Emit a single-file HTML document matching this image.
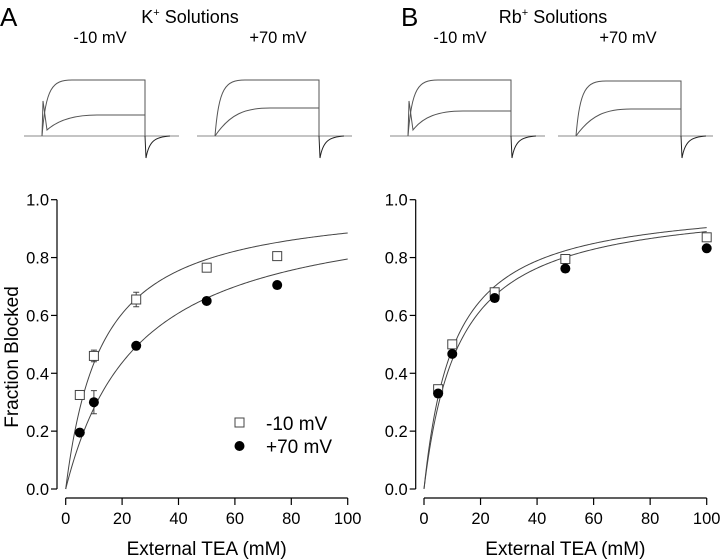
<!DOCTYPE html>
<html><head><meta charset="utf-8"><style>
body{margin:0;background:#fff;}
svg{display:block;font-family:"Liberation Sans",sans-serif;}
</style></head><body>
<svg id="fig" width="720" height="560" viewBox="0 0 720 560" xmlns="http://www.w3.org/2000/svg">
<text x="0" y="26" font-size="26">A</text>
<text x="190" y="23" font-size="18" text-anchor="middle">K<tspan dy="-7" font-size="11">+</tspan><tspan dy="7"> Solutions</tspan></text>
<text x="100" y="43" font-size="16.5" text-anchor="middle">-10 mV</text>
<text x="278" y="43" font-size="16.5" text-anchor="middle">+70 mV</text>
<text x="401" y="26" font-size="26">B</text>
<text x="553" y="23" font-size="18" text-anchor="middle">Rb<tspan dy="-7" font-size="11">+</tspan><tspan dy="7"> Solutions</tspan></text>
<text x="460" y="43" font-size="16.5" text-anchor="middle">-10 mV</text>
<text x="628" y="43" font-size="16.5" text-anchor="middle">+70 mV</text>
<g id="traces" stroke="#555" stroke-width="1" fill="none"></g>
<g id="plots"></g>
</svg>
<script>
// Left panel (K+) data
const concK = [5, 10, 25, 50, 75];
const kNeg10 = [0.325, 0.46, 0.655, 0.765, 0.805];
const kNeg10Err = [0, 0.02, 0.025, 0, 0];
const kPos70 = [0.195, 0.30, 0.495, 0.65, 0.705];
const kPos70Err = [0, 0.04, 0, 0, 0];
const kFitKd = [13, 25.8];
// Right panel (Rb+) data
const concRb = [5, 10, 25, 50, 100];
const rbNeg10 = [0.345, 0.50, 0.68, 0.795, 0.87];
const rbPos70 = [0.33, 0.467, 0.66, 0.762, 0.832];
const rbFitKd = [10.7, 12.4];
const xTicks = [0, 20, 40, 60, 80, 100];
const yTicks = [0.0, 0.2, 0.4, 0.6, 0.8, 1.0];

const NS = "http://www.w3.org/2000/svg";
function mk(tag, attrs, parent) {
  const e = document.createElementNS(NS, tag);
  for (const k in attrs) e.setAttribute(k, attrs[k]);
  parent.appendChild(e);
  return e;
}

// Current traces
const tg = document.getElementById('traces');
function trace(x0, start, end, top, mid, dip, name) {
  const base = 136;
  const b = mk('path', {d: `M${x0} ${base} H${x0+155}`, stroke: '#888'}, tg);
  
  
  let d1 = `M${start} ${base} C${start+4} ${top+8} ${start+10} ${top} ${start+30} ${top} H${end} V${base} `;
  let d2 = `M${start} ${base} ${dip ? 'L' + (start + 1) + ' ' + (base - 35) + ' L' + (start + 5) + ' ' + (base - 6) : ''} C${start+15} ${mid+6} ${start+30} ${mid} ${start+55} ${mid} H${end} V${base}`;
  let d3 = `M${end} ${base} L${end+1} ${base+22} C${end+4} ${base+5} ${end+10} ${base+1} ${end+25} ${base}`;
  const p1 = mk('path', {d: d1}, tg);
  
  
  const p2 = mk('path', {d: d2}, tg);
  
  
  const p3 = mk('path', {d: d3, stroke: '#222'}, tg);
  
  
}
trace(24, 42, 145, 80, 115, true, 'trace-a-neg10');
trace(197, 215, 319, 80, 108, false, 'trace-a-pos70');
trace(390, 408, 511, 80, 111, true, 'trace-b-neg10');
trace(558, 576, 681, 81, 109, false, 'trace-b-pos70');

const pg = document.getElementById('plots');
function plot(prefix, ax0, x0, x100, conc, open, openErr, filled, filledErr, kds, legend) {
  const yTop = 199.7, yBot = 489, xAxisY = 498;
  const X = v => x0 + (x100 - x0) * v / 100;
  const Y = v => yBot - (yBot - yTop) * v;
  const g = mk('g', {}, pg);
  
  
  const ya = mk('line', {x1: ax0, y1: Y(1), x2: ax0, y2: Y(0), stroke: '#000', 'stroke-width': 1.2}, g);
  
  
  yTicks.forEach(t => {
    const l = mk('line', {x1: ax0 - 6, y1: Y(t), x2: ax0, y2: Y(t), stroke: '#000', 'stroke-width': 1.2}, g);
    
    
    const tx = mk('text', {x: ax0 - 8, y: Y(t) + 6, 'font-size': 16.5, 'text-anchor': 'end'}, g);
    tx.textContent = t.toFixed(1);
    
    
  });
  const xa = mk('line', {x1: X(0), y1: xAxisY, x2: X(100), y2: xAxisY, stroke: '#000', 'stroke-width': 1.2}, g);
  
  
  xTicks.forEach(t => {
    const l = mk('line', {x1: X(t), y1: xAxisY, x2: X(t), y2: xAxisY + 7, stroke: '#000', 'stroke-width': 1.2}, g);
    
    
    const tx = mk('text', {x: X(t), y: xAxisY + 26, 'font-size': 16.5, 'text-anchor': 'middle'}, g);
    tx.textContent = t;
    
    
  });
  const xt = mk('text', {x: (X(0) + X(100)) / 2, y: 555, 'font-size': 19, 'text-anchor': 'middle'}, g);
  xt.textContent = 'External TEA (mM)';
  
  
  kds.forEach((kd, i) => {
    let d = '';
    for (let c = 0; c <= 100; c += 0.5) d += (c ? 'L' : 'M') + X(c).toFixed(2) + ' ' + Y(c / (c + kd)).toFixed(2);
    const p = mk('path', {d: d, fill: 'none', stroke: '#444', 'stroke-width': 1}, g);
    
    
  });
  function err(vals, errs, name) {
    conc.forEach((c, i) => {
      if (!errs || !errs[i]) return;
      const x = X(c);
      const d = `M${x} ${Y(vals[i] - errs[i])} V${Y(vals[i] + errs[i])} M${x - 3} ${Y(vals[i] + errs[i])} h6 M${x - 3} ${Y(vals[i] - errs[i])} h6`;
      const p = mk('path', {d: d, stroke: '#444', fill: 'none', 'stroke-width': 1}, g);
      
      
    });
  }
  err(open, openErr, prefix + '-neg10');
  err(filled, filledErr, prefix + '-pos70');
  conc.forEach((c, i) => {
    const r = mk('rect', {x: X(c) - 4.5, y: Y(open[i]) - 4.5, width: 9, height: 9, fill: '#fff', stroke: '#444', 'stroke-width': 1}, g);
    
    
  });
  conc.forEach((c, i) => {
    const e = mk('circle', {cx: X(c), cy: Y(filled[i]), r: 5, fill: '#000'}, g);
    
    
  });
  if (legend) {
    const lr = mk('rect', {x: 235, y: 418, width: 9, height: 9, fill: '#fff', stroke: '#444'}, g);
    
    
    const lt = mk('text', {x: 266, y: 430, 'font-size': 19}, g);
    lt.textContent = '-10 mV';
    
    
    const lc = mk('circle', {cx: 239.5, cy: 446, r: 5, fill: '#000'}, g);
    
    
    const lt2 = mk('text', {x: 266, y: 453, 'font-size': 19}, g);
    lt2.textContent = '+70 mV';
    
    
  }
}
plot('k', 57, 65.7, 347.7, concK, kNeg10, kNeg10Err, kPos70, kPos70Err, kFitKd, true);
plot('rb', 415.7, 424, 706.7, concRb, rbNeg10, null, rbPos70, null, rbFitKd, false);

const yl = mk('text', {x: 0, y: 0, 'font-size': 19, 'text-anchor': 'middle', transform: 'translate(18 357) rotate(-90)'}, pg);
yl.textContent = 'Fraction Blocked';


</script>
</body></html>
